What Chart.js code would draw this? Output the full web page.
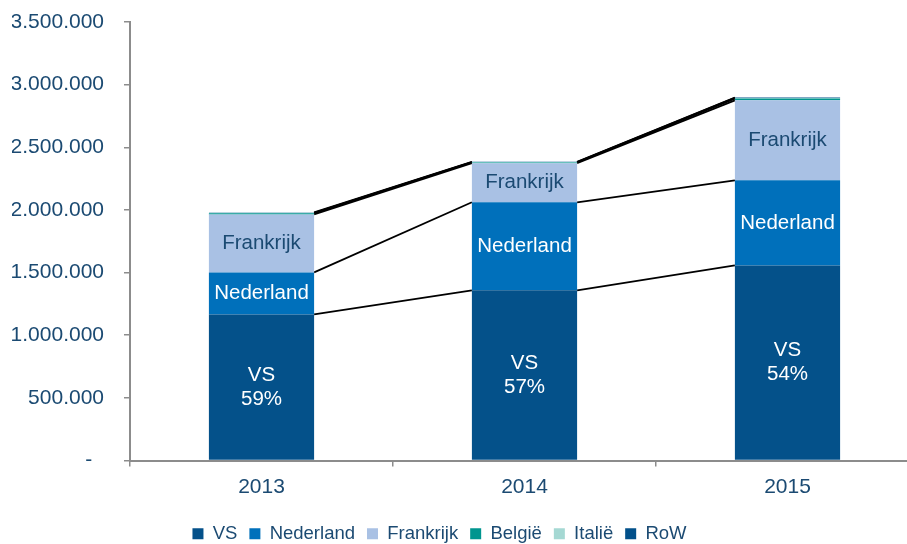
<!DOCTYPE html>
<html>
<head>
<meta charset="utf-8">
<script src="https://cdn.jsdelivr.net/npm/chart.js@4.4.1/dist/chart.umd.min.js"></script>
<style>
  html, body { margin: 0; padding: 0; background: #fff; overflow: hidden; }
  #wrap { width: 920px; height: 544px; }
</style>
</head>
<body>
<div id="wrap"><canvas id="chart"></canvas></div>
<script>
// Données
const categories = ['2013', '2014', '2015'];
const seriesNames = ['VS', 'Nederland', 'Frankrijk', 'België', 'Italië', 'RoW'];
const vsValues = [1166000, 1358000, 1557000];
const nederlandValues = [335000, 703000, 679000];
const frankrijkValues = [463000, 312000, 639000];
const belgieValues = [10000, 6000, 14000];
const italieValues = [3000, 3000, 5000];
const rowValues = [3000, 2000, 3000];
const vsShares = ['59%', '57%', '54%'];
const yMax = 3500000;
const yStep = 500000;

const seriesColors = ['#04518A', '#0070BB', '#A9C1E4', '#00958F', '#A5D8D3', '#02508A'];
const textBlue = '#1B4A72';
const axisGrey = '#8C8C8C';
const FONT = "'Liberation Sans', Arial, sans-serif";

function formatNumber(v) {
  if (v === 0) return '-  ';
  return String(v).replace(/\B(?=(\d{3})+(?!\d))/g, '.');
}

// Lignes de séries entre les barres (comme dans Excel)
const seriesLines = {
  id: 'seriesLines',
  beforeDatasetsDraw(chart) {
    const ctx = chart.ctx;
    ctx.save();
    ctx.strokeStyle = '#000';
    ctx.lineWidth = 1.8;
    chart.data.datasets.forEach((ds, i) => {
      const meta = chart.getDatasetMeta(i);
      for (let j = 0; j < meta.data.length - 1; j++) {
        const a = meta.data[j], b = meta.data[j + 1];
        ctx.beginPath();
        ctx.moveTo(a.x + a.width / 2, a.y);
        ctx.lineTo(b.x - b.width / 2, b.y);
        ctx.stroke();
      }
    });
    ctx.restore();
  }
};

// Étiquettes dans les segments
const segmentLabels = {
  id: 'segmentLabels',
  afterDatasetsDraw(chart) {
    const ctx = chart.ctx;
    ctx.save();
    ctx.font = '20.5px ' + FONT;
    ctx.textAlign = 'center';
    ctx.textBaseline = 'middle';
    [0, 1, 2].forEach(i => {
      const meta = chart.getDatasetMeta(i);
      meta.data.forEach((bar, j) => {
        const cy = (bar.y + bar.base) / 2;
        ctx.fillStyle = i === 2 ? textBlue : '#fff';
        if (i === 0) {
          ctx.fillText(seriesNames[0], bar.x, cy - 12);
          ctx.fillText(vsShares[j], bar.x, cy + 12);
        } else {
          ctx.fillText(seriesNames[i], bar.x, cy);
        }
      });
    });
    ctx.restore();
  }
};

// Décaler la légende vers la gauche (centrée sur la fenêtre, pas sur le canvas)
const legendShift = {
  id: 'legendShift',
  afterLayout(chart) {
    if (chart.legend) {
      chart.legend.left -= 26;
      chart.legend.right -= 26;
    }
  }
};

const allValues = [vsValues, nederlandValues, frankrijkValues, belgieValues, italieValues, rowValues];

new Chart(document.getElementById('chart'), {
  type: 'bar',
  data: {
    labels: categories,
    datasets: seriesNames.map((name, i) => ({
      label: name,
      data: allValues[i],
      backgroundColor: seriesColors[i],
      borderWidth: 0,
      categoryPercentage: 1,
      barPercentage: 0.4
    }))
  },
  options: {
    responsive: true,
    maintainAspectRatio: false,
    animation: false,
    layout: { padding: { left: 12, right: 1, top: 22, bottom: -9 } },
    plugins: {
      tooltip: { enabled: false },
      legend: {
        position: 'bottom',
        labels: {
          boxWidth: 11,
          boxHeight: 11,
          padding: 12,
          color: textBlue,
          font: { family: FONT, size: 18.5 }
        }
      }
    },
    scales: {
      x: {
        stacked: true,
        grid: { drawOnChartArea: false, color: axisGrey, lineWidth: 1.5, tickLength: 6 },
        border: { color: axisGrey, width: 2 },
        ticks: { color: textBlue, font: { family: FONT, size: 21 }, padding: 8 },
        afterFit(scale) { scale.height = 52; }
      },
      y: {
        stacked: true,
        min: 0,
        max: yMax,
        grid: { drawOnChartArea: false, color: axisGrey, lineWidth: 1.5, tickLength: 6 },
        border: { color: axisGrey, width: 2 },
        ticks: {
          stepSize: yStep,
          color: textBlue,
          font: { family: FONT, size: 21 },
          padding: 20,
          callback: v => formatNumber(v)
        },
        afterFit(scale) {
          scale.width = 118;
          scale.paddingTop = 0;
          scale.paddingBottom = 0;
        }
      }
    }
  },
  plugins: [seriesLines, segmentLabels, legendShift]
});
</script>
</body>
</html>
